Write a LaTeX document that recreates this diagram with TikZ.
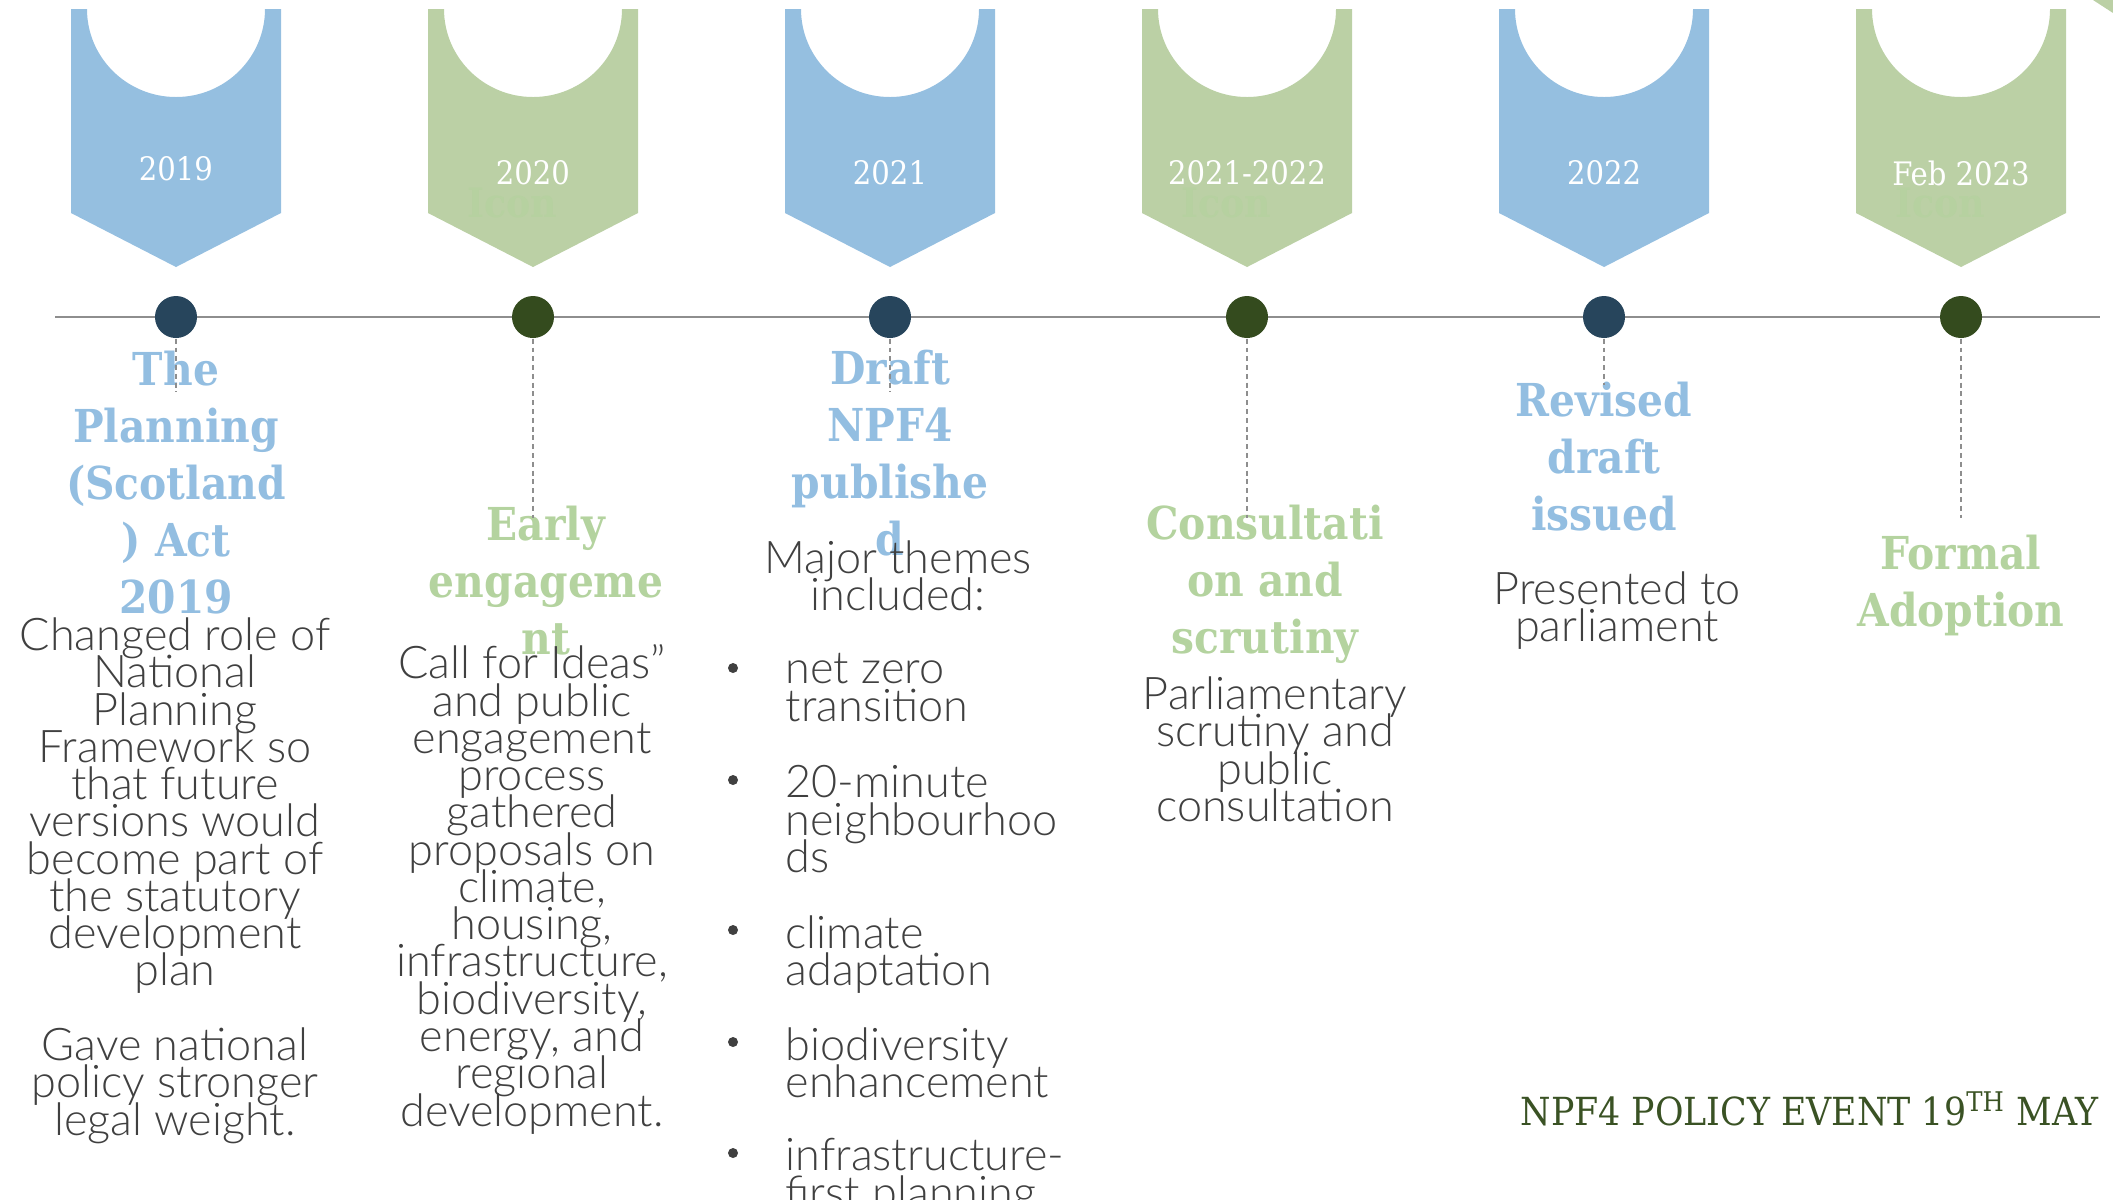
\documentclass[tikz,border=0pt]{standalone}
\usepackage{fontspec}
\usetikzlibrary{positioning}
\IfFontExistsTF{Lato Light}{\setmainfont{Lato Light}}{\setmainfont{Lato}}
\IfFontExistsTF{DejaVu Serif Condensed Bold}
  {\newfontfamily\headfont{DejaVu Serif Condensed Bold}}
  {\newfontfamily\headfont{DejaVu Serif Bold}}
\IfFontExistsTF{DejaVu Serif Condensed}
  {\newfontfamily\slabfont{DejaVu Serif Condensed}}
  {\newfontfamily\slabfont{DejaVu Serif}}
\newcommand\tightlines{\lineskiplimit=-\maxdimen\relax}
\definecolor{Sky}{HTML}{95BFE0}
\definecolor{Sage}{HTML}{BBD0A5}
\definecolor{SkyText}{HTML}{93BEE1}
\definecolor{SageText}{HTML}{B4D39F}
\definecolor{SageFaint}{HTML}{B6D1A0}
\definecolor{Ink}{HTML}{404040}
\definecolor{DotBlue}{HTML}{27455C}
\definecolor{DotGreen}{HTML}{344B1E}
\definecolor{Moss}{HTML}{3A5224}
\definecolor{Rule}{HTML}{8E8E8E}

\begin{document}
\begin{tikzpicture}[x=0.01cm,y=-0.01cm,
    title/.style={font=\headfont\fontsize{12.9}{16.2}\selectfont,align=center,inner sep=0pt,anchor=north},
    bodytext/.style={font=\fontsize{12.8}{10.6}\selectfont\tightlines,text=Ink,align=center,inner sep=0pt,anchor=north},
    year/.style={font=\slabfont\fontsize{9.2}{11}\selectfont,text=white,inner sep=0pt},
    icon/.style={font=\slabfont\bfseries\fontsize{11.5}{13}\selectfont,text=SageFaint,inner sep=0pt},
    dot/.style={circle,inner sep=0pt,minimum size=0.42cm},
    bullet/.style={circle,fill=Ink,inner sep=0pt,minimum size=0.1cm},
    stem/.style={draw=Rule,dash pattern=on 1.4pt off 1.1pt,line width=0.4pt}]
  \useasboundingbox (0,0) rectangle (2113,1199);
  % banners
  \foreach \i/\yr/\yy/\col/\ye in {0/2019/169/Sky/392,1/2020/173/Sage/518,
      2/2021/173/Sky/392,3/2021-2022/173/Sage/518,
      4/2022/173/Sky/385,5/Feb 2023/173/Sage/518}{
    \pgfmathsetmacro{\cx}{176+\i*357}
    \fill[\col] (\cx-105,9) -- (\cx-105,213) -- (\cx,267) -- (\cx+105,213) -- (\cx+105,9)
      -- (\cx+89,9) arc[start angle=0,end angle=180,x radius=89,y radius=88] -- cycle;
    \ifodd\i
      \node[icon] (icon\i) at (\cx-21,203) {Icon};
    \fi
    \node[year] (year\i) at (\cx,\yy) {\yr};
    \coordinate (foot\i) at (\cx,\ye);
  }
  \fill[Sage] (2093,0) -- (2113,0) -- (2113,13) -- cycle;

  % titles
  \node[title,text=SkyText] (title0) at (176,350) {The\\Planning\\(Scotland\\) Act\\2019};
  \node[title,text=SageText] (title1) at (546,505) {Early\\engageme\\nt};
  \node[title,text=SkyText] (title2) at (890,349) {Draft\\NPF4\\publishe\\d};
  \node[title,text=SageText] (title3) at (1265,504) {Consultati\\on and\\scrutiny};
  \node[title,text=SkyText] (title4) at (1604,381) {Revised\\draft\\issued};
  \node[title,text=SageText] (title5) at (1961,534) {Formal\\Adoption};

  % texts
  \node[bodytext] (body0) at (175,617) {Changed role of\\National\\Planning\\Framework so\\that future\\versions would\\become part of\\the statutory\\development\\plan\\[10.6pt]Gave national\\policy stronger\\legal weight.};
  \node[bodytext] (body1) at (532,644) {Call for Ideas”\\and public\\engagement\\process\\gathered\\proposals on\\climate,\\housing,\\infrastructure,\\biodiversity,\\energy, and\\regional\\development.};
  \node[bodytext] (body2) at (898,540) {Major themes\\included:};
  \node[bodytext] (body3) at (1275,676) {Parliamentary\\scrutiny and\\public\\consultation};
  \node[bodytext] (body4) at (1617,571) {Presented to\\parliament};
  \foreach \n/\ty/\txt in {1/653/{net zero\\transition},2/765/{20-minute\\neighbourhoo\\ds},
      3/915/{climate\\adaptation},4/1027/{biodiversity\\enhancement},5/1138/{infrastructure-\\first planning}}{
    \node[bullet] (bul\n) at (733,\ty+15) {};
    \node[bodytext,align=left,anchor=north west] (item\n) at (785,\ty) {\txt};
  }

  % timeline
  \coordinate (lineL) at (55,317);
  \coordinate (lineR) at (2100,317);
  \draw[Rule,line width=0.6pt] (lineL) -- (lineR);
  \foreach \i/\dcol in {0/DotBlue,1/DotGreen,2/DotBlue,3/DotGreen,4/DotBlue,5/DotGreen}{
    \pgfmathsetmacro{\cx}{176+\i*357}
    \node[dot,fill=\dcol] (dot\i) at (\cx,317) {};
    \draw[stem] (dot\i.south) -- (foot\i);
  }

  \node[font=\slabfont\fontsize{11}{13}\selectfont,text=Moss,anchor=west,inner sep=0pt] (footer)
    at (1520,1109) {NPF4 POLICY EVENT 19\textsuperscript{TH} MAY};
\end{tikzpicture}
\end{document}
